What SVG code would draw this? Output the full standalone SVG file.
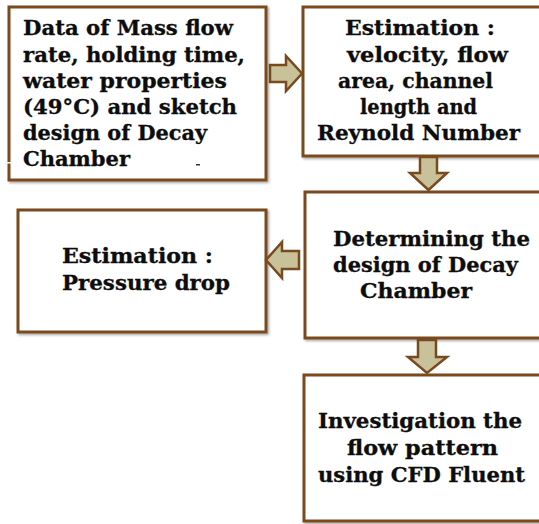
<svg xmlns="http://www.w3.org/2000/svg" width="539" height="524" viewBox="0 0 539 524">
<defs>
<style>
.box{fill:#ffffff;stroke:#7a4a1f;stroke-width:3;filter:url(#sh)}
.arr{fill:#c9c19a;stroke:#7a4a1f;stroke-width:2.5;stroke-linejoin:miter}
.t{font-family:"DejaVu Serif","Liberation Serif",serif;font-weight:bold;font-size:19.5px;fill:#0d0d0d;stroke:#0d0d0d;stroke-width:0.3}
</style>
<filter id="sh" x="-5%" y="-5%" width="110%" height="110%">
<feDropShadow dx="1.5" dy="1.5" stdDeviation="1.2" flood-color="#000" flood-opacity="0.35"/>
</filter>
</defs>
<rect width="539" height="524" fill="#ffffff"/>
<g id="n1">
<rect class="box" x="9" y="7" width="257" height="173"/>
<text class="t" x="23" y="35" textLength="210" lengthAdjust="spacingAndGlyphs">Data of Mass flow</text>
<text class="t" x="23" y="62" textLength="222" lengthAdjust="spacingAndGlyphs">rate, holding time,</text>
<text class="t" x="23" y="88" textLength="204" lengthAdjust="spacingAndGlyphs">water properties</text>
<text class="t" x="23" y="114" textLength="214" lengthAdjust="spacingAndGlyphs">(49°C) and sketch</text>
<text class="t" x="23" y="140" textLength="184" lengthAdjust="spacingAndGlyphs">design of Decay</text>
<text class="t" x="23" y="166" textLength="107" lengthAdjust="spacingAndGlyphs">Chamber</text>
<rect x="3" y="162" width="12" height="1.5" fill="#ffffff"/>
<rect x="196" y="164" width="4" height="1.5" fill="#333"/>
</g>
<g id="n2">
<rect class="box" x="303" y="7" width="245" height="149"/>
<text class="t" x="345" y="35" textLength="150" lengthAdjust="spacingAndGlyphs">Estimation  :</text>
<text class="t" x="347" y="62" textLength="161" lengthAdjust="spacingAndGlyphs">velocity, flow</text>
<text class="t" x="338" y="88" textLength="155" lengthAdjust="spacingAndGlyphs">area, channel</text>
<text class="t" x="360" y="114" textLength="117" lengthAdjust="spacingAndGlyphs">length and</text>
<text class="t" x="317" y="140" textLength="203" lengthAdjust="spacingAndGlyphs">Reynold Number</text>
</g>
<g id="n3">
<rect class="box" x="305" y="192" width="243" height="146"/>
<text class="t" x="333" y="246" textLength="197" lengthAdjust="spacingAndGlyphs">Determining the</text>
<text class="t" x="333" y="272" textLength="185" lengthAdjust="spacingAndGlyphs">design of Decay</text>
<text class="t" x="360" y="298" textLength="112" lengthAdjust="spacingAndGlyphs">Chamber</text>
</g>
<g id="n4">
<rect class="box" x="18" y="210" width="248" height="122"/>
<text class="t" x="62" y="263" textLength="151" lengthAdjust="spacingAndGlyphs">Estimation :</text>
<text class="t" x="62" y="290" textLength="168" lengthAdjust="spacingAndGlyphs">Pressure drop</text>
</g>
<g id="n5">
<rect class="box" x="304" y="375" width="244" height="146"/>
<text class="t" x="318" y="428" textLength="204" lengthAdjust="spacingAndGlyphs">Investigation the</text>
<text class="t" x="347" y="455" textLength="151" lengthAdjust="spacingAndGlyphs">flow pattern</text>
<text class="t" x="318" y="482" textLength="207" lengthAdjust="spacingAndGlyphs">using CFD Fluent</text>
</g>
<g id="connectors">
<polygon class="arr" points="270,65 286,65 286,56 302,73.5 286,91 286,82 270,82"/>
<polygon class="arr" points="420,157 437,157 437,173 447,173 428.5,190 410,173 420,173"/>
<polygon class="arr" points="299,251 282,251 282,242 266,260 282,278 282,269 299,269"/>
<polygon class="arr" points="418,340 436,340 436,357 447,357 427,373 408,357 418,357"/>
</g>
</svg>
